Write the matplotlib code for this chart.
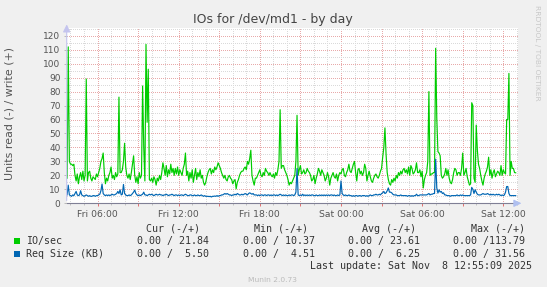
import matplotlib
matplotlib.use("Agg")
import matplotlib.pyplot as plt
from matplotlib.ticker import MultipleLocator, FuncFormatter
from matplotlib.patches import Rectangle
import numpy as np

# ---------------- data (5-minute samples, hours counted from Fri 00:00) ----------------
start_hour = 3.75          # Fri 03:45
step_hours = 5.0 / 60.0

io_sec = [
    18, 112, 30, 28, 28, 27, 28, 20, 16, 21, 14, 19,
    22, 17, 23, 16, 20, 89, 16, 22, 23, 18, 16, 19,
    18, 17, 21, 19, 22, 25, 30, 32, 36, 22, 14, 18,
    16, 20, 22, 26, 18, 20, 17, 22, 19, 21, 76, 22,
    22, 24, 30, 43, 26, 20, 18, 21, 17, 22, 28, 34,
    20, 15, 19, 14, 22, 18, 20, 84, 40, 16, 113.79, 58,
    96, 17, 16, 18, 15, 19, 17, 13, 18, 16, 20, 17,
    22, 29, 25, 20, 27, 19, 24, 21, 28, 22, 25, 20,
    25, 21, 26, 20, 24, 22, 20, 25, 28, 36, 20, 23,
    16, 22, 18, 24, 15, 20, 25, 17, 22, 19, 24, 18,
    20, 15, 13, 15, 19, 22, 24, 25, 21, 24, 22, 26,
    24, 26, 29, 27, 25, 22, 20, 18, 20, 17, 16, 19,
    20, 18, 17, 14, 16, 17, 10.37, 15, 17, 20, 22, 23,
    23, 25, 26, 24, 30, 28, 32, 38, 20, 16, 13, 18,
    18, 20, 22, 24, 20, 19, 22, 20, 25, 23, 22, 20,
    22, 20, 19, 21, 18, 22, 20, 24, 30, 67, 25, 27,
    27, 24, 22, 20, 17, 13, 15, 14, 16, 18, 20, 30,
    63, 20, 24, 27, 21, 22, 24, 21, 22, 25, 23, 22,
    20, 16, 17, 20, 14, 18, 21, 25, 23, 20, 24, 22,
    20, 16, 18, 22, 19, 13, 18, 20, 22, 19, 18, 21,
    16, 20, 22, 21, 24, 25, 20, 19, 22, 24, 28, 23,
    22, 25, 28, 30, 22, 16, 24, 25, 21, 23, 20, 22,
    28, 25, 16, 20, 23, 19, 16, 15, 18, 20, 21, 19,
    18, 20, 23, 25, 33, 40, 54, 35, 22, 17, 14, 13,
    17, 15, 18, 16, 20, 18, 22, 20, 23, 21, 24, 25,
    22, 24, 21, 26, 20, 27, 25, 21, 22, 24, 29, 22,
    22, 24, 19, 23, 11, 17, 20, 22, 30, 80, 20, 21,
    21, 22, 22, 111, 61, 37, 36, 34, 20, 18, 19, 21,
    25, 20, 24, 18, 15, 14, 17, 22, 25, 24, 20, 22,
    22, 20, 25, 36, 20, 22, 25, 19, 16, 13, 14, 72,
    70, 18, 15, 56, 38, 28, 25, 20, 16, 13, 18, 21,
    23, 26, 33, 20, 24, 18, 22, 24, 19, 21, 23, 22,
    20, 27, 20, 24, 22, 21, 60, 60, 93, 20, 30, 25,
    25, 22, 21.84,
]

req_size = [
    6, 13, 6, 5.5, 5, 6, 5.5, 7, 8.5, 6, 5.5, 6,
    9, 6, 5.5, 5, 5.5, 6, 5.5, 5, 5.5, 5, 5, 5.5,
    5.5, 5, 5.5, 5.5, 6, 6.5, 9, 13.8, 7, 6, 5.5, 6,
    5.5, 6, 5.5, 6, 6.5, 6, 6, 6.5, 7, 8.5, 7, 9.7,
    6, 6.5, 13.5, 7, 6, 5.5, 5.5, 6, 5.5, 6, 7, 8,
    9.5, 7, 6, 5.5, 6, 5.5, 6, 6.5, 8, 6, 6, 5.5,
    6, 6.5, 6, 6.5, 6, 5.5, 6, 6.5, 6, 6, 6.5, 6,
    6, 5.5, 6, 6, 6.5, 6, 5.5, 6, 6, 6.5, 6, 5.5,
    6, 6, 5.5, 6, 5.5, 6, 6, 5.5, 6, 6.5, 6, 5.5,
    5.5, 6, 6, 5.5, 5.5, 6, 5.5, 5.5, 6, 5.5, 5.5, 6,
    5.5, 5, 5.5, 5, 5, 5, 4.8, 5, 4.51, 5, 5, 5.2,
    5, 5.5, 5, 5.5, 5.5, 6, 6, 6.5, 7, 6.5, 7, 6.5,
    6, 6, 5.5, 6, 6, 6.5, 6, 7, 6.5, 6, 6, 6.5,
    6, 6.5, 7, 6.5, 6, 7, 7.5, 7, 6.5, 7, 6, 6,
    6, 5.5, 6, 5.5, 6, 6, 5.5, 6, 6, 5.5, 6, 6,
    5.5, 6, 5.5, 6, 6, 5.5, 6, 5.5, 6, 6.5, 6, 5.5,
    6, 5.5, 6, 5.5, 5.5, 6, 5.5, 6, 6, 5.5, 6, 8,
    25, 6, 5.5, 6, 5.5, 6.5, 5.5, 6, 5.5, 6, 5.5, 6,
    5.5, 6, 6, 5.5, 5.5, 6, 5.5, 5.5, 6, 5.5, 6, 5.5,
    6, 5.5, 6, 5.5, 6, 5.5, 6, 6, 5.5, 6, 5.5, 5.5,
    6, 5.5, 6, 16, 7, 6, 5.5, 6, 5.5, 5.5, 6, 5.5,
    5.5, 5, 5.5, 5, 5.5, 5.5, 5, 5.5, 5.5, 5, 5.5, 5.5,
    5.5, 5, 5.5, 5, 5.5, 6, 5.5, 5.5, 6, 6, 6.5, 6,
    6, 6.5, 6, 7, 7.5, 8.5, 7, 7.5, 9, 11, 8, 8,
    7.5, 6.5, 6, 6, 6, 5.5, 5.5, 5.5, 6, 5.5, 5.5, 5.5,
    5.5, 5.5, 5, 5.5, 5.5, 5, 5.5, 5, 5.5, 5.5, 6.5, 5.5,
    5.5, 6, 6, 6, 6, 6, 6, 6, 6.5, 7, 6, 6.5,
    6.5, 7, 7, 31.56, 11, 7.3, 9.7, 8, 8.5, 7, 7.5, 6,
    6, 5.5, 5.5, 5.5, 5, 5.5, 5.5, 5.5, 5.5, 5.5, 6, 5.5,
    5.5, 6, 5.5, 6, 5.5, 5.5, 5.5, 5.5, 5.5, 5.5, 6, 11.4,
    10, 7, 9.7, 8, 6.5, 6, 6, 6, 6.5, 7, 6.5, 6.5,
    6.5, 7, 6.5, 6, 6.5, 6, 6.5, 6, 6, 6.5, 6, 6.5,
    6, 5.5, 6, 5.5, 6, 8, 12, 12, 7, 5.5, 5.5, 5.5,
    5.5, 5.5, 5.5,
]

tick_hours = [6, 12, 18, 24, 30, 36]
tick_labels = ["Fri 06:00", "Fri 12:00", "Fri 18:00", "Sat 00:00", "Sat 06:00", "Sat 12:00"]

series_names = ["IO/sec", "Req Size (KB)"]
series_colors = ["#00CC00", "#0066B3"]
legend_headers = ["Cur (-/+)", "Min (-/+)", "Avg (-/+)", "Max (-/+)"]
legend_values = [
    ["0.00 / 21.84", "0.00 / 10.37", "0.00 / 23.61", "0.00 /113.79"],
    ["0.00 /  5.50", "0.00 /  4.51", "0.00 /  6.25", "0.00 / 31.56"],
]
title = "IOs for /dev/md1 - by day"
ylabel = "Units read (-) / write (+)"
last_update = "Last update: Sat Nov  8 12:55:09 2025"
version_text = "Munin 2.0.73"
side_text = "RRDTOOL / TOBI OETIKER"

# ---------------- figure ----------------
W, H = 547, 287
fig = plt.figure(figsize=(W / 100, H / 100), dpi=100, facecolor="#F0F0F0")


def fx(x):
    return x / W


def fy(y):
    return 1 - y / H


ax_left, ax_right, ax_top, ax_bottom = 66.7, 518.3, 28.3, 203.3
ax = fig.add_axes([fx(ax_left), fy(ax_bottom), (ax_right - ax_left) / W, (ax_bottom - ax_top) / H])
ax.set_facecolor("white")

t = start_hour + step_hours * np.arange(len(io_sec))
ax.plot(t, io_sec, color=series_colors[0], lw=0.85, zorder=3)
ax.plot(t, req_size, color=series_colors[1], lw=0.85, zorder=3)

ax.set_xlim(3.72, 37.11)
ax.set_ylim(0, 125.3)

ax.xaxis.set_major_locator(MultipleLocator(3))
ax.xaxis.set_minor_locator(MultipleLocator(1))
lab = dict(zip(tick_hours, tick_labels))
ax.xaxis.set_major_formatter(FuncFormatter(lambda v, p: lab.get(int(round(v)), "")))
ax.yaxis.set_major_locator(MultipleLocator(10))
ax.yaxis.set_minor_locator(MultipleLocator(5))

ax.grid(which="major", color="#E8AAAA", linestyle=(0, (0.7, 1.5)), lw=0.72, zorder=1,
        antialiased=False)
ax.grid(which="minor", color="#DADADA", linestyle=(0, (0.7, 1.5)), lw=0.72, zorder=0,
        antialiased=False)

for s in ax.spines.values():
    s.set_visible(False)

ax.tick_params(axis="x", which="major", length=2, width=0.7, color="#E07070",
               labelsize=6.7, labelcolor="#555555", pad=2.5)
ax.tick_params(axis="x", which="minor", length=1.2, width=0.6, color="#BBBBBB")
ax.tick_params(axis="y", which="major", length=2, width=0.7, color="#BBBBBB",
               labelsize=6.5, labelcolor="#555555", pad=2.5)
ax.tick_params(axis="y", which="minor", length=0)

# axes lines with arrows
ax.plot([0, 1], [0, 0], transform=ax.transAxes, color="#7F7F95", lw=0.8, clip_on=False, zorder=4)
ax.annotate("", xy=(1.013, 0), xytext=(0.995, 0), xycoords="axes fraction",
            arrowprops=dict(arrowstyle="-|>,head_length=0.45,head_width=0.22",
                            color="#B0C0F0", lw=0.8), zorder=5)
ax.annotate("", xy=(0, 1.038), xytext=(0, 0), xycoords="axes fraction",
            arrowprops=dict(arrowstyle="-|>,head_length=0.45,head_width=0.22",
                            color="#C4C4EE", lw=0.8), zorder=5)

# texts
fig.text(fx(273), fy(19), title, ha="center", va="center", fontsize=9, color="#444444")
fig.text(fx(10), fy(113), ylabel, ha="center", va="center", rotation=90, fontsize=7.9, color="#555555")
fig.text(fx(537.5), fy(53), side_text, ha="center", va="center", rotation=270, fontsize=5.4, color="#C8C8C8")

mono = dict(family="DejaVu Sans Mono", fontsize=7.2, color="#333333", va="center")
header_ends = [200, 308, 416, 525]
value_ends = [209, 315, 420.5, 525]
for h, xe in zip(legend_headers, header_ends):
    fig.text(fx(xe), fy(228.5), h, ha="right", **mono)

row_y = [241, 254]
for name, col, vals, yy in zip(series_names, series_colors, legend_values, row_y):
    fig.patches.append(Rectangle((fx(13.5), fy(yy + 3)), 6 / W, 6 / H, transform=fig.transFigure,
                                 facecolor=col, edgecolor="none"))
    fig.text(fx(26), fy(yy), name, ha="left", **mono)
    for v, xe in zip(vals, value_ends):
        fig.text(fx(xe), fy(yy), v, ha="right", **mono)

fig.text(fx(532), fy(266), last_update, ha="right", **mono)
fig.text(fx(272.5), fy(280), version_text, ha="center", va="center", fontsize=5.4, color="#BBBBBB")

fig.savefig("out.png", dpi=100, facecolor=fig.get_facecolor())
